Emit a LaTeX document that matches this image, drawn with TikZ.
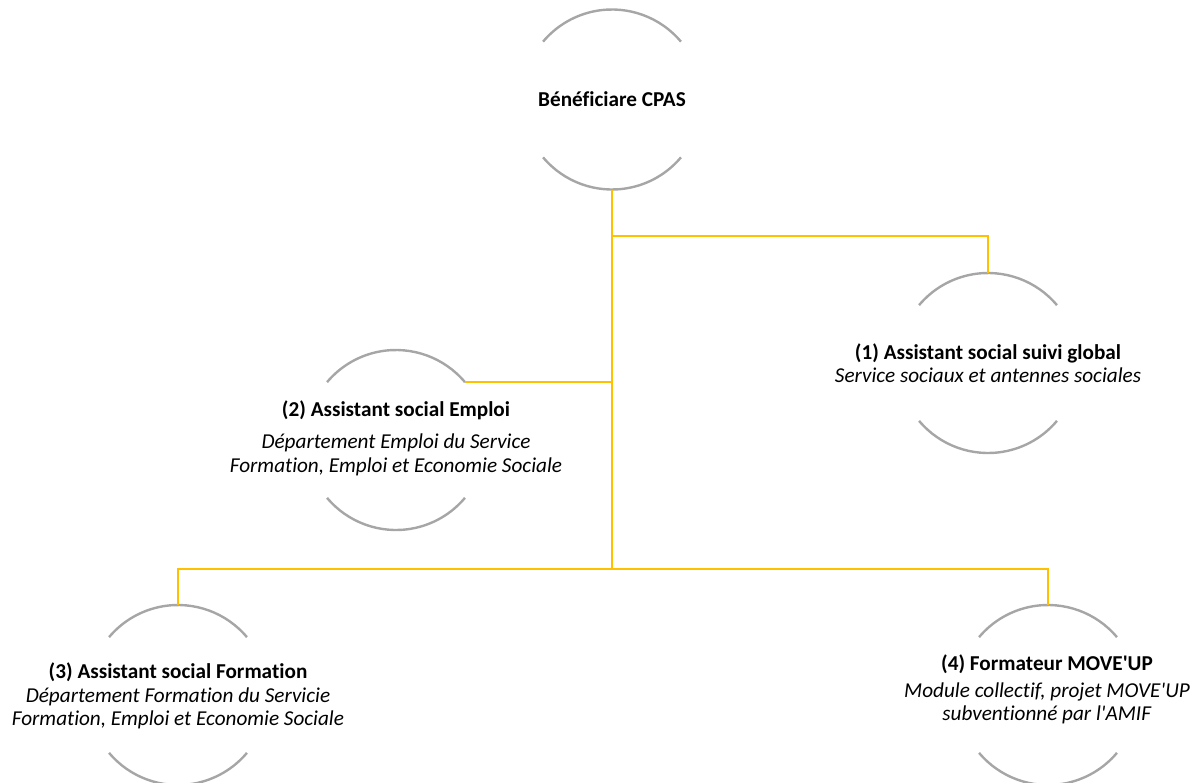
\documentclass[tikz,border=0pt]{standalone}
\usepackage{fontspec}
\setmainfont{Carlito}[Ligatures={TeXOff,NoCommon}]
\definecolor{gold}{HTML}{FFC000}
\definecolor{arcgray}{HTML}{A6A6A6}
\begin{document}
\begin{tikzpicture}[
  ring/.style={circle, minimum size=180pt, inner sep=0pt, outer sep=0pt},
  arcline/.style={draw=arcgray, line width=2.4pt},
  link/.style={draw=gold, line width=2.5pt},
  txt/.style={align=center, font=\fontsize{21.2}{23.5}\selectfont, inner sep=0pt}]
\useasboundingbox (0,0) rectangle (1201pt,-782pt);
\begin{scope}[x=1pt,y=1pt]
\node[ring] (c0) at (612,-99.5) {};
\node[ring] (c1) at (988,-363) {};
\node[ring] (c2) at (396,-440) {};
\node[ring] (c3) at (178,-695) {};
\node[ring] (c4) at (1048,-695) {};
\foreach \n in {c0,c1,c2,c3,c4} {
  \draw[arcline] (\n.40) arc[start angle=40, end angle=140, radius=90pt];
  \draw[arcline] (\n.-140) arc[start angle=-140, end angle=-40, radius=90pt];
}
\coordinate (b1) at (612,-236);
\coordinate (j) at (612,-569);
\draw[link] (c0.south) -- (j);
\draw[link] (b1) -| (c1.north);
\draw[link] (c2.40) -- (c2.40 -| j);
\draw[link] (c3.north) |- (j) -| (c4.north);

\node[txt] (t0) at (c0) {\textbf{Bénéficiare CPAS}};
\node[txt] (t1) at (c1) {\textbf{(1) Assistant social suivi global}\\ \textit{Service sociaux et antennes sociales}};
\node[txt] (t2) at (396,-438) {\textbf{(2) Assistant social Emploi}\\[9pt] \textit{Département Emploi du Service}\\ \textit{Formation, Emploi et Economie Sociale}};
\node[txt] (t3) at (178,-696) {\textbf{(3) Assistant social Formation}\\ \textit{Département Formation du Servicie}\\ \textit{Formation, Emploi et Economie Sociale}};
\node[txt] (t4) at (1047,-689) {\textbf{(4) Formateur MOVE'UP}\\[4pt] \textit{Module collectif, projet MOVE'UP}\\[-1pt] \textit{subventionné par l'AMIF}};
\end{scope}
\end{tikzpicture}
\end{document}
